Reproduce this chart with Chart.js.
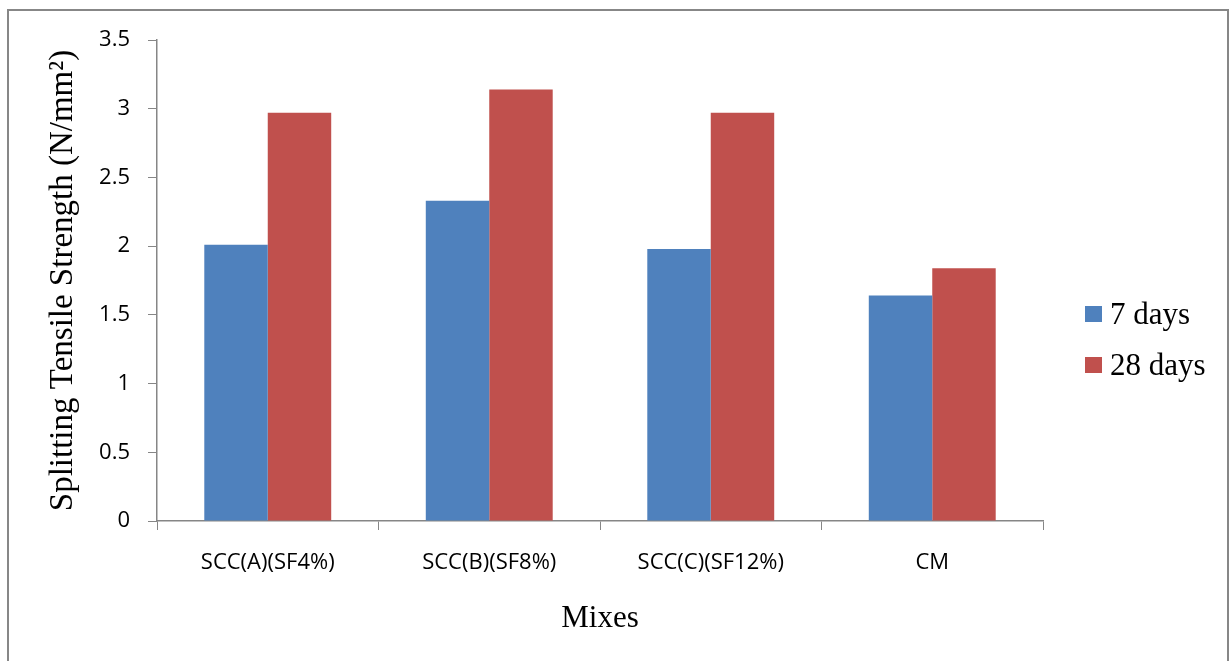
<!DOCTYPE html>
<html>
<head>
<meta charset="utf-8">
<script src="https://cdn.jsdelivr.net/npm/chart.js@4"></script>
<style>
  html, body { margin: 0; padding: 0; background: #fff; }
  #wrap { position: relative; width: 1231px; height: 661px; overflow: hidden; }
  #frame { position: absolute; left: 7px; top: 9px; width: 1222px; height: 700px;
           border: 2px solid #878787; box-sizing: border-box; }
  #chartBox { position: absolute; left: 0; top: 0; width: 1231px; height: 661px; }
  #legend { position: absolute; left: 1085px; top: 296px; font-family: "Liberation Serif", serif;
            font-size: 31px; color: #000; }
  .item { display: flex; align-items: center; height: 36px; margin-bottom: 15px; }
  .sw { width: 17px; height: 16px; margin-right: 8px; }
</style>
</head>
<body>
<div id="wrap">
  <div id="frame"></div>
  <div id="chartBox"><canvas id="myChart"></canvas></div>
  <div id="legend"></div>
</div>
<script>
// datos
const mixes = ['SCC(A)(SF4%)', 'SCC(B)(SF8%)', 'SCC(C)(SF12%)', 'CM']
const days7 = [2.01, 2.33, 1.98, 1.64]
const days28 = [2.97, 3.14, 2.97, 1.84]
const seriesNames = ['7 days', '28 days']
const seriesColors = ['#4F81BD', '#C0504D']

const axisGray = '#868686'

const data = {
    labels: mixes,
    datasets: [
        { label: seriesNames[0], data: days7, backgroundColor: seriesColors[0] },
        { label: seriesNames[1], data: days28, backgroundColor: seriesColors[1] }
    ]
}

const config = {
    type: 'bar',
    data: data,
    options: {
        responsive: true,
        maintainAspectRatio: false,
        animation: false,
        layout: { padding: { left: 40, top: 40, right: 188, bottom: 20 } },
        datasets: { bar: { categoryPercentage: 0.573, barPercentage: 1 } },
        plugins: { legend: { display: false }, tooltip: { enabled: false } },
        scales: {
            x: {
                grid: { display: true, drawOnChartArea: false, drawTicks: true, tickLength: 9, color: axisGray, offset: true },
                border: { color: axisGray, width: 1.5 },
                ticks: { color: '#000', padding: 20, font: { family: 'Open Sans', size: 22 } },
                title: { display: true, text: 'Mixes', color: '#000', padding: { top: 4, bottom: 4 },
                         font: { family: 'Liberation Serif', size: 31 } },
                afterFit: s => { s.height = 120 }
            },
            y: {
                min: 0, max: 3.5,
                ticks: { stepSize: 0.5, color: '#000', padding: 18, font: { family: 'Open Sans', size: 22 },
                         callback: v => String(+v.toFixed(1)) },
                grid: { display: true, drawOnChartArea: false, drawTicks: true, tickLength: 9, color: axisGray },
                border: { color: axisGray, width: 1.5 },
                title: { display: true, text: 'Splitting Tensile Strength (N/mm²)', color: '#000', padding: { top: 4, bottom: 4 },
                         font: { family: 'Liberation Serif', size: 33 } },
                afterFit: s => { s.width = 117 }
            }
        }
    }
}

let myChart = new Chart(document.getElementById('myChart'), config)

// leyenda
const legend = document.getElementById('legend')
seriesNames.forEach((name, i) => {
    const it = document.createElement('div')
    it.className = 'item'
    it.innerHTML = `<span class="sw" style="background:${seriesColors[i]}"></span><span>${name}</span>`
    legend.appendChild(it)
})
</script>
</body>
</html>
